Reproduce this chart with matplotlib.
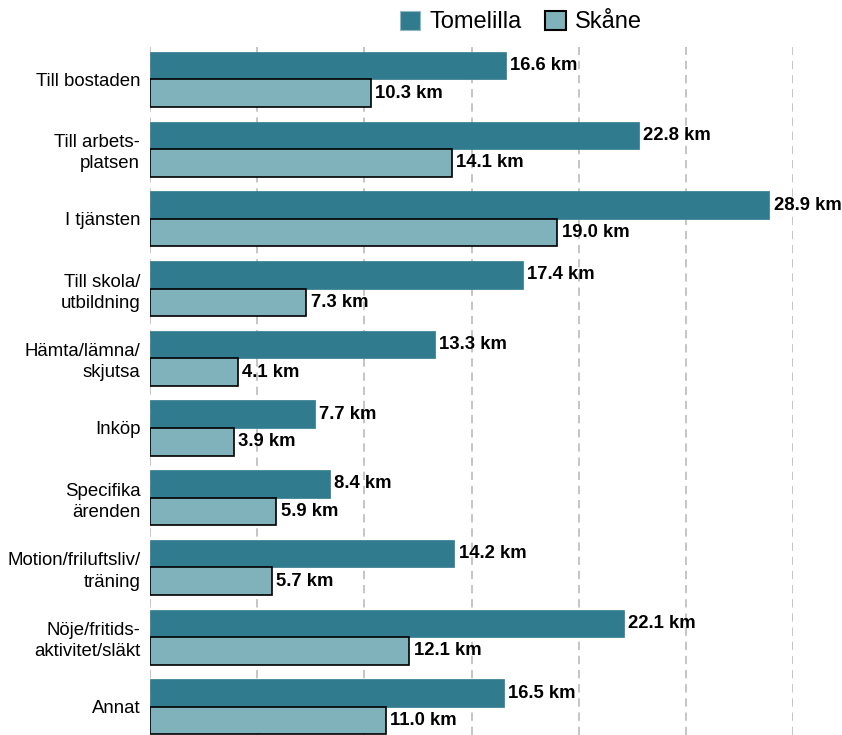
import numpy as np
import matplotlib
matplotlib.use("Agg")
import matplotlib.pyplot as plt
from matplotlib.patches import Patch

plt.rcParams['font.family'] = ['Liberation Sans', 'DejaVu Sans']

categories = ["Till bostaden", "Till arbets-\nplatsen", "I tjänsten", "Till skola/\nutbildning",
              "Hämta/lämna/\nskjutsa", "Inköp", "Specifika\närenden", "Motion/friluftsliv/\nträning",
              "Nöje/fritids-\naktivitet/släkt", "Annat"]
tomelilla = [16.6, 22.8, 28.9, 17.4, 13.3, 7.7, 8.4, 14.2, 22.1, 16.5]
skane = [10.3, 14.1, 19.0, 7.3, 4.1, 3.9, 5.9, 5.7, 12.1, 11.0]
series_names = ["Tomelilla", "Skåne"]

c_tom = "#317B8E"
c_ska = "#7FB2BB"

fig = plt.figure(figsize=(8.42, 7.35), dpi=100)
ax = fig.add_axes([150 / 842, 0, (793 - 150) / 842, 1 - 47 / 735])

y = np.arange(len(categories))
h = 0.395
bars1 = ax.barh(y - h / 2, tomelilla, height=h, color=c_tom, edgecolor=c_tom, linewidth=0.5)
bars2 = ax.barh(y + h / 2, skane, height=h, color=c_ska, edgecolor="black", linewidth=1.2)

# value labels at bar ends
for bars, vals in ((bars1, tomelilla), (bars2, skane)):
    for b, v in zip(bars, vals):
        ax.text(b.get_width() + 0.2, b.get_y() + b.get_height() / 2, f"{v:.1f} km",
                va="center", ha="left", fontsize=13.3, fontweight="bold", clip_on=False)

ax.set_xlim(0, 30)
ax.set_ylim(9.405, -0.466)
ax.set_xticks(np.arange(0, 31, 5))
ax.set_yticks(y)
ax.set_yticklabels(categories, fontsize=13.4, linespacing=1.32)
ax.tick_params(axis="y", length=0, pad=7)
ax.tick_params(axis="x", length=0, labelbottom=False)
ax.set_axisbelow(True)
ax.grid(axis="x", color="#BBBBBB", linestyle=(0, (5, 3.5)), linewidth=1.2)
for s in ax.spines.values():
    s.set_visible(False)

handles = [Patch(facecolor=c_tom, edgecolor="#8FB8C4", linewidth=0.8),
           Patch(facecolor=c_ska, edgecolor="black", linewidth=1.5)]
fig.legend(handles, series_names, loc="center", bbox_to_anchor=(521 / 842, 1 - 22 / 735),
           ncol=2, frameon=False, fontsize=17, handlelength=0.85, handleheight=0.85,
           handletextpad=0.4, columnspacing=1.0)

fig.savefig("out.png", dpi=100)
